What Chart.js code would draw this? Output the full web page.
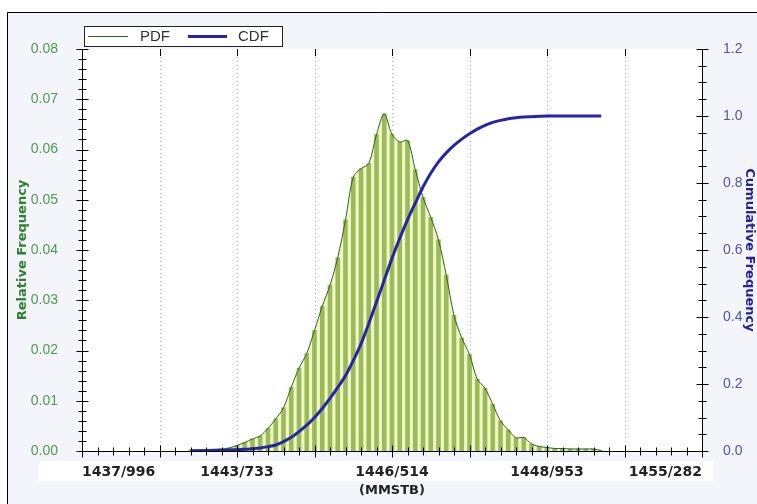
<!DOCTYPE html>
<html>
<head>
<meta charset="utf-8">
<script src="https://cdn.jsdelivr.net/npm/chart.js@4/dist/chart.umd.min.js"></script>
<style>
  html, body { margin: 0; padding: 0; background: #fff; }
  #wrap { width: 757px; height: 504px; }
</style>
</head>
<body>
<div id="wrap"><canvas id="distChart" width="757" height="504"></canvas></div>
<script>
// bin positions in axis units (one major grid step = 1 unit)
const binPositions = [
    1.4, 1.5, 1.6, 1.7, 1.8, 1.9, 2.0, 2.1, 2.2, 2.3,
    2.4, 2.5, 2.6, 2.7, 2.8, 2.9, 3.0, 3.1, 3.2, 3.3,
    3.4, 3.5, 3.6, 3.7, 3.8, 3.9, 4.0, 4.1, 4.2, 4.3,
    4.4, 4.5, 4.6, 4.7, 4.8, 4.9, 5.0, 5.1, 5.2, 5.3,
    5.4, 5.5, 5.6, 5.7, 5.8, 5.9, 6.0, 6.1, 6.2, 6.3,
    6.4, 6.5, 6.6, 6.7
];

const pdfValues = [
    0.0002, 0.0002, 0.0003, 0.0003, 0.0004, 0.0006, 0.0011, 0.0017, 0.0024, 0.0030,
    0.0045, 0.0064, 0.0086, 0.0127, 0.0165, 0.0194, 0.0240, 0.0288, 0.0330, 0.0385,
    0.0460, 0.0545, 0.0562, 0.0572, 0.0630, 0.0671, 0.0630, 0.0615, 0.0618, 0.0560,
    0.0505, 0.0465, 0.0420, 0.0350, 0.0270, 0.0225, 0.0192, 0.0143, 0.0125, 0.0093,
    0.0060, 0.0042, 0.0026, 0.0027, 0.0014, 0.0009, 0.0007, 0.0005, 0.0005, 0.0004,
    0.0004, 0.0004, 0.0004, 0.0001
];

const cdfValues = [
    0.000, 0.001, 0.001, 0.002, 0.002, 0.003, 0.004, 0.005, 0.007, 0.009,
    0.013, 0.018, 0.028, 0.041, 0.058, 0.077, 0.100, 0.127, 0.157, 0.190,
    0.225, 0.270, 0.320, 0.380, 0.445, 0.510, 0.575, 0.635, 0.690, 0.740,
    0.788, 0.829, 0.863, 0.890, 0.912, 0.931, 0.947, 0.961, 0.972, 0.981,
    0.987, 0.992, 0.995, 0.997, 0.998, 0.999, 1.000, 1.000, 1.000, 1.000,
    1.000, 1.000, 1.000, 1.000
];

// labels shown on every second major grid step (0, 2, 4, 6, 8)
const xTickLabels = ['1437/996', '1443/733', '1446/514', '1448/953', '1455/282'];

const GREEN_BAR = '#9bbb59';
const GREEN_FILL = '#f1f8c8';
const GREEN_LINE = '#2f5f22';
const BLUE_LINE = '#2525a6';

const pdfPoints = binPositions.map((x, i) => ({ x: x, y: pdfValues[i] }));
const cdfPoints = binPositions.map((x, i) => ({ x: x, y: cdfValues[i] }));

// frame, background, dotted grid, tick marks and boxed legend
const decorPlugin = {
    id: 'decor',
    beforeDraw(chart) {
        const { ctx, width, height, chartArea } = chart;
        ctx.save();
        ctx.fillStyle = '#fff';
        ctx.fillRect(0, 0, width, height);
        ctx.fillStyle = '#f3f5fa';
        ctx.fillRect(7, 12, width - 7, height - 12);
        ctx.strokeStyle = '#000';
        ctx.lineWidth = 1;
        ctx.beginPath();
        ctx.moveTo(7.5, height);
        ctx.lineTo(7.5, 12.5);
        ctx.lineTo(width, 12.5);
        ctx.stroke();
        // white band behind the x labels
        ctx.fillStyle = '#fff';
        ctx.fillRect(38, 461, 675, 20);
        ctx.fillRect(chartArea.left, chartArea.top, chartArea.right - chartArea.left, chartArea.bottom - chartArea.top);
        ctx.restore();
    },
    beforeDatasetsDraw(chart) {
        const { ctx, chartArea, scales } = chart;
        ctx.save();
        ctx.strokeStyle = '#b8b8b8';
        ctx.lineWidth = 1;
        ctx.setLineDash([1, 3]);
        for (let i = 1; i < 8; i++) {
            const x = Math.round(scales.x.getPixelForValue(i)) + 0.5;
            ctx.beginPath();
            ctx.moveTo(x, chartArea.top);
            ctx.lineTo(x, chartArea.bottom);
            ctx.stroke();
        }
        ctx.restore();
    },
    afterDraw(chart) {
        const { ctx, chartArea, scales } = chart;
        ctx.save();
        ctx.strokeStyle = '#000';
        ctx.lineWidth = 1;
        const hTick = (x, y, a, b) => {
            const yy = Math.round(y) + 0.5;
            ctx.beginPath(); ctx.moveTo(x - a, yy); ctx.lineTo(x + b, yy); ctx.stroke();
        };
        const vTick = (x, y, a, b) => {
            const xx = Math.round(x) + 0.5;
            ctx.beginPath(); ctx.moveTo(xx, y - a); ctx.lineTo(xx, y + b); ctx.stroke();
        };
        const L = chartArea.left + 0.5, R = chartArea.right + 0.5;
        const B = chartArea.bottom + 0.5, T = chartArea.top;
        for (let i = 0; i <= 40; i++) {
            const major = i % 5 === 0;
            hTick(L, scales.y.getPixelForValue(i * 0.002), major ? 6 : 4, major ? 6 : 4);
        }
        for (let i = 0; i <= 24; i++) {
            const major = i % 4 === 0;
            hTick(R, scales.y1.getPixelForValue(i * 0.05), major ? 6 : 4, major ? 6 : 4);
        }
        for (let i = 0; i <= 40; i++) {
            const major = i % 5 === 0;
            vTick(scales.x.getPixelForValue(i * 0.2), B, major ? 6 : 4, major ? 6 : 4);
        }
        for (let i = 1; i < 8; i++) {
            vTick(scales.x.getPixelForValue(i), T, 0, 7);
        }

        // legend box
        ctx.fillStyle = '#fff';
        ctx.fillRect(84.5, 26.5, 198, 20);
        ctx.strokeStyle = '#222';
        ctx.strokeRect(84.5, 26.5, 198, 20);
        ctx.font = '15px "Liberation Sans", Arial, sans-serif';
        ctx.textBaseline = 'middle';
        ctx.fillStyle = '#333';
        ctx.strokeStyle = GREEN_LINE;
        ctx.lineWidth = 1;
        ctx.beginPath(); ctx.moveTo(88, 36.5); ctx.lineTo(128, 36.5); ctx.stroke();
        ctx.fillText('PDF', 140, 37);
        ctx.strokeStyle = BLUE_LINE;
        ctx.lineWidth = 3;
        ctx.beginPath(); ctx.moveTo(188, 36.5); ctx.lineTo(227, 36.5); ctx.stroke();
        ctx.fillText('CDF', 238, 37);
        ctx.restore();
    }
};

new Chart(document.getElementById('distChart'), {
    type: 'line',
    data: {
        datasets: [
            {
                label: 'CDF',
                data: cdfPoints,
                yAxisID: 'y1',
                borderColor: BLUE_LINE,
                borderWidth: 3,
                pointRadius: 0,
                fill: false,
                cubicInterpolationMode: 'monotone',
                order: 1
            },
            {
                label: 'PDF',
                data: pdfPoints,
                yAxisID: 'y',
                borderColor: GREEN_LINE,
                borderWidth: 1,
                pointRadius: 0,
                fill: false,
                tension: 0.3,
                order: 2
            },
            {
                type: 'bar',
                label: 'PDF bars',
                data: pdfPoints,
                yAxisID: 'y',
                backgroundColor: GREEN_BAR,
                barThickness: 4,
                order: 3
            },
            {
                label: 'PDF fill',
                data: pdfPoints,
                yAxisID: 'y',
                borderWidth: 0,
                borderColor: 'transparent',
                backgroundColor: GREEN_FILL,
                pointRadius: 0,
                fill: 'origin',
                tension: 0.3,
                order: 4
            }
        ]
    },
    options: {
        responsive: false,
        animation: false,
        layout: { padding: { top: 49, left: 0, right: 0, bottom: 0 } },
        plugins: {
            legend: { display: false },
            tooltip: { enabled: false }
        },
        scales: {
            x: {
                type: 'linear',
                min: 0,
                max: 8,
                offset: false,
                afterFit: (scale) => { scale.height = 53; },
                grid: { display: false, offset: false },
                border: { display: true, color: '#000' },
                ticks: {
                    stepSize: 2,
                    autoSkip: false,
                    maxRotation: 0,
                    align: 'inner',
                    padding: 5,
                    color: '#222',
                    font: { family: '"DejaVu Sans", sans-serif', size: 14, weight: 'bold' },
                    callback: (v) => xTickLabels[v / 2] || ''
                },
                title: {
                    display: true,
                    text: '(MMSTB)',
                    color: '#222',
                    padding: { top: 0, bottom: 6 },
                    font: { family: '"DejaVu Sans", sans-serif', size: 13, weight: 'bold' }
                }
            },
            y: {
                position: 'left',
                min: 0,
                max: 0.08,
                afterFit: (scale) => { scale.width = 82; },
                grid: { display: false },
                border: { display: true, color: '#000' },
                ticks: {
                    stepSize: 0.01,
                    padding: 16,
                    color: '#4f9a4f',
                    font: { family: '"Liberation Sans", Arial, sans-serif', size: 14 },
                    callback: (v) => v.toFixed(2)
                },
                title: {
                    display: true,
                    text: 'Relative Frequency',
                    color: '#2e812e',
                    padding: { top: 15, bottom: 0 },
                    font: { family: '"DejaVu Sans", sans-serif', size: 13, weight: 'bold' }
                }
            },
            y1: {
                position: 'right',
                min: 0,
                max: 1.2,
                afterFit: (scale) => { scale.width = 55; },
                grid: { display: false },
                border: { display: true, color: '#000' },
                ticks: {
                    stepSize: 0.2,
                    padding: 13,
                    color: '#5151a8',
                    font: { family: '"Liberation Sans", Arial, sans-serif', size: 14 },
                    callback: (v) => v.toFixed(1)
                },
                title: {
                    display: true,
                    text: 'Cumulative Frequency',
                    color: '#22229c',
                    padding: { top: 0, bottom: 0 },
                    font: { family: '"DejaVu Sans", sans-serif', size: 13, weight: 'bold' }
                }
            }
        }
    },
    plugins: [decorPlugin]
});
</script>
</body>
</html>
